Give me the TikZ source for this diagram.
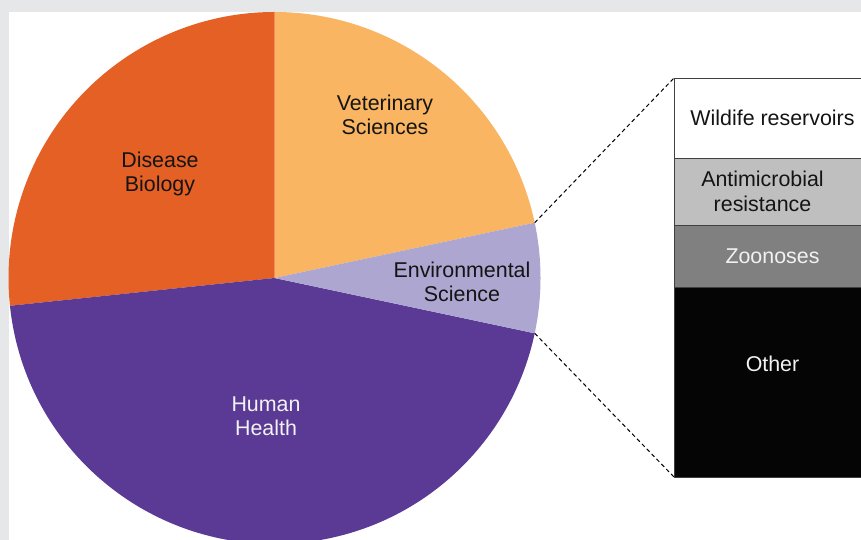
\documentclass[tikz,border=0pt]{standalone}
\usepackage{fontspec}
\setmainfont{Liberation Sans}
\definecolor{panelgrey}{HTML}{E6E7E8}
\definecolor{diseaseorange}{HTML}{E56024}
\definecolor{vetorange}{HTML}{F9B561}
\definecolor{envlilac}{HTML}{ADA6D0}
\definecolor{humanpurple}{HTML}{5B3A96}
\definecolor{boxline}{HTML}{404040}

\begin{document}
\begin{tikzpicture}[x=1pt, y=1pt, every node/.style={align=center, inner sep=0pt, font=\fontsize{21.4}{24.5}\selectfont, text=black!92},
        segment/.style={rectangle, draw=boxline, line width=0.8pt, minimum width=197pt, anchor=north west, outer sep=0pt},
        zoomline/.style={line width=1pt, dash pattern=on 4pt off 3pt}]
                \clip (0,0) rectangle (861,540);
                \fill[panelgrey] (0,0) rectangle (861,540);
                \fill[white] (8.5,0) rectangle (861,528);
                % pie
                \coordinate (centre) at (274.5,262);
                \fill[vetorange] (centre) -- ++(12:266) arc[start angle=12, end angle=90, radius=266] -- cycle;
                \fill[diseaseorange] (centre) -- ++(90:266) arc[start angle=90, end angle=186, radius=266] -- cycle;
                \fill[humanpurple] (centre) -- ++(186:266) arc[start angle=186, end angle=348, radius=266] -- cycle;
                \fill[envlilac] (centre) -- ++(-12:266) arc[start angle=-12, end angle=12, radius=266] -- cycle;
                \path (centre) ++(12:266) coordinate (vetenv);
                \path (centre) ++(-12:266) coordinate (envhuman);
                \node (vet) at (385,425) {Veterinary\\Sciences};
                \node (disease) at (160,366) {Disease\\Biology};
                \node (env) at (462,258) {Environmental\\Science};
                \node[text=white!95!black] (human) at (266,124) {Human\\Health};
                % breakdown of environmental science
                \node[segment, fill=white, minimum height=80pt] (wild) at (674,462) {Wildife reservoirs};
                \node[segment, fill=black!25, minimum height=67pt] (anti) at (674,382) {};
                \node (antitext) at ([xshift=-10pt]anti.center) {Antimicrobial\\resistance};
                \node[segment, fill=black!50, minimum height=62pt, text=white!95!black] (zoo) at (674,315) {Zoonoses};
                \node[segment, fill=black!98, minimum height=190pt, text=white!95!black] (other) at (674,253) {};
                \node[text=white!95!black] (othertext) at ([yshift=18pt]other.center) {Other};
                \draw[zoomline] (vetenv) -- (wild.north west);
                \draw[zoomline] (envhuman) -- (other.south west);
            \end{tikzpicture}
\end{document}
